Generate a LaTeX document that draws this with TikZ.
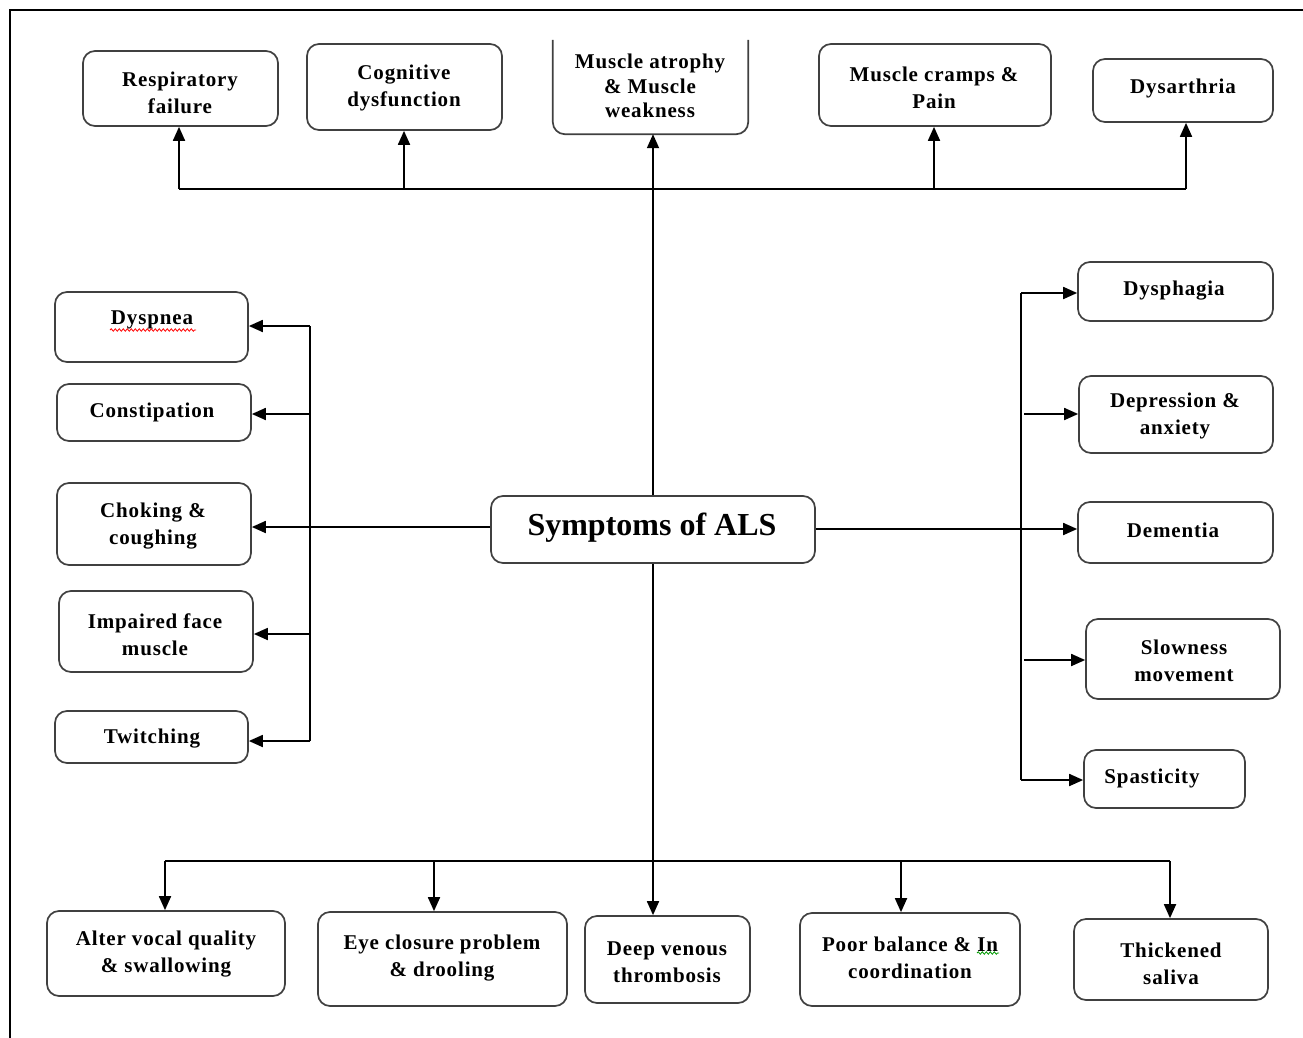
\documentclass[tikz,border=0pt]{standalone}
\usepackage{fontspec}
\setmainfont{Liberation Serif}
\newfontfamily\lblfont{Liberation Serif}[LetterSpace=4]
\usetikzlibrary{arrows.meta,decorations.pathmorphing}
\begin{document}
\begin{tikzpicture}[x=1pt,y=-1pt,
  box/.style={draw=black!75, line width=1.7pt, rounded corners=12pt, inner sep=0pt, fill=white},
  boxline/.style={draw=black!75, line width=1.7pt, rounded corners=12pt},
  txt/.style={align=center, inner sep=0pt, font=\lblfont\fontsize{21}{27}\selectfont\bfseries},
  conn/.style={line width=1.8pt, draw=black},
  arr/.style={conn, -{Triangle[length=14pt,width=12pt]}}]
\useasboundingbox (0,0) rectangle (1303,1038);
% frame
\draw[line width=2.2pt] (10,1040) -- (10,10) -- (1305,10);

% ---- boxes ----
\node[box, minimum width=195pt, minimum height=75pt] (resp) at (180.5,88.5) {};
\node[box, minimum width=195pt, minimum height=86pt] (cog) at (404.5,87) {};
\node[inner sep=0pt, minimum width=195pt, minimum height=94pt] (musc) at (650.5,87) {};
\draw[boxline] (musc.north west) -- (musc.south west) -- (musc.south east) -- (musc.north east);
\node[box, minimum width=232pt, minimum height=82pt] (cramp) at (935,85) {};
\node[box, minimum width=180pt, minimum height=63pt] (dysar) at (1183,90.5) {};

\node[box, minimum width=193pt, minimum height=70pt] (dyspnea) at (151.5,327) {};
\node[box, minimum width=194pt, minimum height=57pt] (consti) at (154,412.5) {};
\node[box, minimum width=194pt, minimum height=82pt] (choke) at (154,524) {};
\node[box, minimum width=194pt, minimum height=81pt] (face) at (156,631.5) {};
\node[box, minimum width=193pt, minimum height=52pt] (twitch) at (151.5,737) {};

\node[box, minimum width=195pt, minimum height=59pt] (dysph) at (1175.5,291.5) {};
\node[box, minimum width=194pt, minimum height=77pt] (depr) at (1176,414.5) {};
\node[box, minimum width=195pt, minimum height=61pt] (dement) at (1175.5,532.5) {};
\node[box, minimum width=194pt, minimum height=80pt] (slow) at (1183,659) {};
\node[box, minimum width=161pt, minimum height=58pt] (spast) at (1164.5,779) {};

\node[box, minimum width=238pt, minimum height=85pt] (alter) at (166,953.5) {};
\node[box, minimum width=249pt, minimum height=94pt] (eye) at (442.5,959) {};
\node[box, minimum width=165pt, minimum height=87pt] (deep) at (667.5,959.5) {};
\node[box, minimum width=220pt, minimum height=93pt] (poor) at (910,959.5) {};
\node[box, minimum width=194pt, minimum height=81pt] (thick) at (1171,959.5) {};

\node[box, minimum width=324pt, minimum height=67pt] (als) at (653,529.5) {};

% ---- texts ----
\node[txt] (tresp) at (180,93) {Respiratory\\failure};
\node[txt] (tcog) at (404,88) {Cognitive\\dysfunction};
\node[txt, font=\lblfont\fontsize{21}{24.5}\selectfont\bfseries] (tmusc) at (650,86) {Muscle atrophy\\\& Muscle\\weakness};
\node[txt] (tcramp) at (934,88) {Muscle cramps \&\\Pain};
\node[txt] (tdysar) at (1183,88) {Dysarthria};
\node[txt] (tdyspnea) at (152,320) {Dyspnea};
\node[txt] (tconsti) at (152,412) {Constipation};
\node[txt] (tchoke) at (153,526) {Choking \&\\coughing};
\node[txt] (tface) at (155,635) {Impaired face\\muscle};
\node[txt] (ttwitch) at (152,739) {Twitching};
\node[txt] (tdysph) at (1174,291) {Dysphagia};
\node[txt] (tdepr) at (1175,416) {Depression \&\\anxiety};
\node[txt] (tdement) at (1173,530) {Dementia};
\node[txt] (tslow) at (1184,661) {Slowness\\movement};
\node[txt] (tspast) at (1152,778) {Spasticity};
\node[txt] (talter) at (166,954) {Alter vocal quality\\\& swallowing};
\node[txt] (teye) at (442,958) {Eye closure problem\\\& drooling};
\node[txt] (tdeep) at (667,962) {Deep venous\\thrombosis};
\node[txt] (tpoor) at (910,958) {Poor balance \& In\\coordination};
\node[txt] (tthick) at (1171,964) {Thickened\\saliva};
\node[txt, font=\fontsize{32}{36}\selectfont\bfseries] (tals) at (652,528) {Symptoms of ALS};

% spell-check squiggles
\draw[red, line width=0.8pt, decorate, decoration={snake, amplitude=1.2pt, segment length=4pt}] (110,330) -- (196,330);
\draw[green!60!black, line width=0.8pt, decorate, decoration={snake, amplitude=1.2pt, segment length=4pt}] (977,953) -- (999,953);

% ---- top connectors ----
\coordinate (t1) at (179,189);
\coordinate (t2) at (404,189);
\coordinate (t4) at (934,189);
\coordinate (t5) at (1186,189);
\draw[arr] (als.north) -- (als.north |- musc.south);
\draw[conn] (t1) -- (t5);
\draw[arr] (t1) -- (t1 |- resp.south);
\draw[arr] (t2) -- (t2 |- cog.south);
\draw[arr] (t4) -- (t4 |- cramp.south);
\draw[arr] (t5) -- (t5 |- dysar.south);

% ---- left connectors ----
\coordinate (l1) at (310,326);
\coordinate (l2) at (310,414);
\coordinate (l4) at (310,634);
\coordinate (l5) at (310,741);
\draw[conn] (l1) -- (l5);
\draw[arr] (l1) -- (l1 -| dyspnea.east);
\draw[arr] (l2) -- (l2 -| consti.east);
\draw[arr] (als.west |- 0,527) -- (choke.east |- 0,527);
\draw[arr] (l4) -- (l4 -| face.east);
\draw[arr] (l5) -- (l5 -| twitch.east);

% ---- right connectors ----
\coordinate (r1) at (1021,293);
\coordinate (r2) at (1024,414);
\coordinate (r4) at (1024,660);
\coordinate (r5) at (1021,780);
\draw[conn] (r1) -- (r5);
\draw[arr] (r1) -- (r1 -| dysph.west);
\draw[arr] (r2) -- (r2 -| depr.west);
\draw[arr] (als.east |- 0,529) -- (dement.west |- 0,529);
\draw[arr] (r4) -- (r4 -| slow.west);
\draw[arr] (r5) -- (r5 -| spast.west);

% ---- bottom connectors ----
\coordinate (b1) at (165,861);
\coordinate (b2) at (434,861);
\coordinate (b4) at (901,861);
\coordinate (b5) at (1170,861);
\draw[conn] (b1) -- (b5);
\draw[arr] (als.south) -- (als.south |- deep.north);
\draw[arr] (b1) -- (b1 |- alter.north);
\draw[arr] (b2) -- (b2 |- eye.north);
\draw[arr] (b4) -- (b4 |- poor.north);
\draw[arr] (b5) -- (b5 |- thick.north);
\end{tikzpicture}
\end{document}
